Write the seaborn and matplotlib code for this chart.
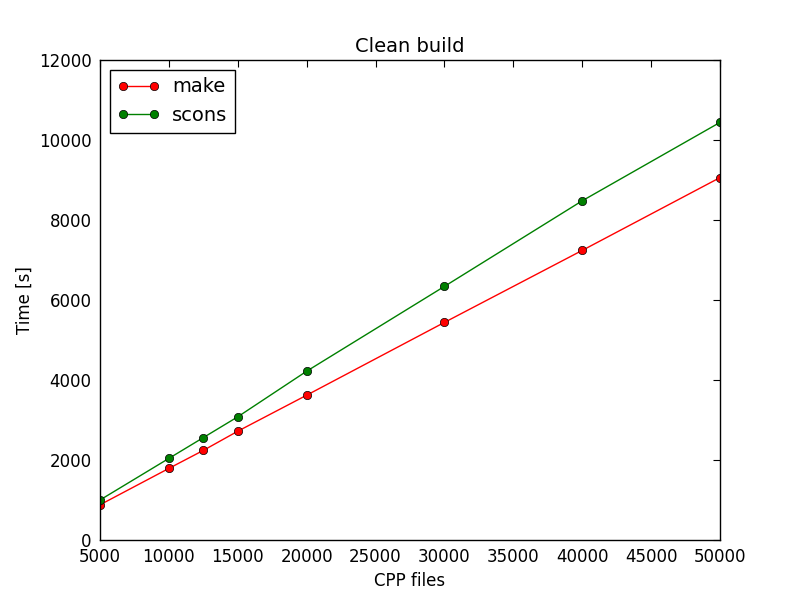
import matplotlib
matplotlib.use("Agg")
import matplotlib.pyplot as plt
import seaborn as sns
import pandas as pd

files = [5000, 10000, 12500, 15000, 20000, 30000, 40000, 50000]
make = [880, 1790, 2240, 2720, 3620, 5440, 7240, 9060]
scons = [1000, 2040, 2560, 3080, 4220, 6340, 8480, 10440]

sns.set_style("white")
plt.rcParams['font.family'] = ['DejaVu Sans']
plt.rcParams['font.size'] = 12
for k in ['text.color', 'axes.labelcolor', 'xtick.color', 'ytick.color']:
    plt.rcParams[k] = 'black'

df = pd.DataFrame({"files": files * 2, "time": make + scons,
                   "tool": ["make"] * len(files) + ["scons"] * len(files)})

fig = plt.figure(figsize=(8, 6), dpi=100)
ax = fig.add_axes([0.125, 0.1, 0.775, 0.8])
sns.lineplot(data=df, x="files", y="time", hue="tool", palette={"make": "red", "scons": "green"},
             marker="o", markersize=6, markeredgecolor="black", markeredgewidth=0.5,
             linewidth=1, ax=ax)
ax.set_xlim(5000, 50000)
ax.set_ylim(0, 12000)
ax.set_xticks(range(5000, 50001, 5000))
ax.set_yticks(range(0, 12001, 2000))
ax.set_title("Clean build", fontsize=14, color="black")
ax.set_xlabel("CPP files", fontsize=12)
ax.set_ylabel("Time [s]", fontsize=12)
ax.tick_params(direction="in", top=True, right=True, length=5, labelsize=12, pad=6, colors="black")
for s in ax.spines.values():
    s.set_color("black"); s.set_linewidth(1)
h, l = ax.get_legend_handles_labels()
leg = ax.legend(h, l, loc="upper left", fontsize=14, fancybox=False, framealpha=1,
                edgecolor="black", title=None, numpoints=2, handlelength=2.2, handletextpad=0.6)
leg.get_frame().set_linewidth(1)
fig.savefig("out.png", dpi=100)
